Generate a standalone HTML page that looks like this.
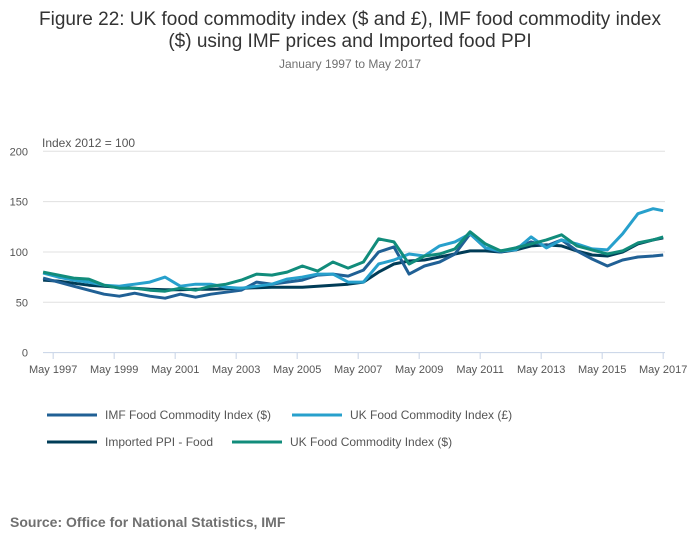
<!DOCTYPE html>
<html><head><meta charset="utf-8"><style>
body{margin:0;background:#fff;width:700px;height:549px;overflow:hidden;font-family:"Liberation Sans",sans-serif;}
</style></head><body>
<svg width="700" height="549" style="position:absolute;left:0;top:0">
<text x="350" y="25" text-anchor="middle" font-size="19" fill="#333">Figure 22: UK food commodity index ($ and £), IMF food commodity index</text>
<text x="350" y="47" text-anchor="middle" font-size="19" fill="#333">($) using IMF prices and Imported food PPI</text>
<text x="350" y="68" text-anchor="middle" font-size="12" fill="#707070">January 1997 to May 2017</text>
<text x="42" y="147" font-size="12" fill="#555">Index 2012 = 100</text>
<g id="grid"></g><g id="series"></g>
<g id="legend" font-size="12" fill="#555">
<line x1="47" y1="415" x2="97" y2="415" stroke="#206095" stroke-width="3"/>
<text x="105" y="419">IMF Food Commodity Index ($)</text>
<line x1="292" y1="415" x2="342" y2="415" stroke="#27a0cc" stroke-width="3"/>
<text x="350" y="419">UK Food Commodity Index (£)</text>
<line x1="47" y1="442" x2="97" y2="442" stroke="#003c57" stroke-width="3"/>
<text x="105" y="446">Imported PPI - Food</text>
<line x1="232" y1="442" x2="282" y2="442" stroke="#118c7b" stroke-width="3"/>
<text x="290" y="446">UK Food Commodity Index ($)</text>
</g>
<text x="10" y="527" font-size="14" font-weight="bold" fill="#707070">Source: Office for National Statistics, IMF</text>
</svg>
<script>
const dates=[1997,1997.5,1998,1998.5,1999,1999.5,2000,2000.5,2001,2001.5,2002,2002.5,2003,2003.5,2004,2004.5,2005,2005.5,2006,2006.5,2007,2007.5,2008,2008.5,2009,2009.5,2010,2010.5,2011,2011.5,2012,2012.5,2013,2013.5,2014,2014.5,2015,2015.5,2016,2016.5,2017,2017.33];
const ppi=[72,71,69,67,66,65,64,63,62.5,62.5,63,63,63.5,64,64.5,65,65,65,66,67,68,70,80,88,91,92,95,98,101,101,100,102,106,107,106,101,97,96,100,108,112,114];
const ukDollar=[80,77,74,73,67,64,64,62,61,64,62,66,68,72,78,77,80,86,81,90,84,90,113,110,88,96,98,103,120,108,101,104,108,112,117,106,102,98,101,109,112,115];
const ukPound=[79,75,72,70,67,66,68,70,75,66,68,68,65,64,66,68,73,75,78,78,70,70,88,92,98,96,106,110,118,104,101,102,115,104,112,108,103,102,118,138,143,141];
const imfDollar=[74,70,66,62,58,56,59,56,54,58,55,58,60,62,70,68,70,72,77,78,76,82,100,105,78,86,90,98,118,104,100,104,110,106,112,101,93,86,92,95,96,97];
const yTicks=[0,50,100,150,200];
const xTickLabels=["May 1997","May 1999","May 2001","May 2003","May 2005","May 2007","May 2009","May 2011","May 2013","May 2015","May 2017"];
const xTickDates=[1997.33,1999.33,2001.33,2003.33,2005.33,2007.33,2009.33,2011.33,2013.33,2015.33,2017.33];
const NS="http://www.w3.org/2000/svg";
const X=d=>43.1+(d-1997)*30.5;
const Y=v=>352.6-v*1.0065;
const grid=document.getElementById('grid');
function mk(t,a,p){const e=document.createElementNS(NS,t);for(const k in a)e.setAttribute(k,a[k]);p.appendChild(e);return e;}
yTicks.forEach(v=>{
 const l=mk('line',{x1:43,x2:665,y1:Y(v),y2:Y(v),stroke:v===0?'#c6d2e6':'#e0e0e0','stroke-width':1},grid);
 
 
 const t=mk('text',{x:28,y:Y(v)+4,'text-anchor':'end','font-size':11,fill:'#555'},grid);
 t.textContent=v;
 
 
});
xTickDates.forEach((d,i)=>{
 const l=mk('line',{x1:X(d),x2:X(d),y1:352.6,y2:359,stroke:'#c6d2e6'},grid);
 
 
 const t=mk('text',{x:X(d),y:373,'text-anchor':'middle','font-size':11,fill:'#555'},grid);
 t.textContent=xTickLabels[i];
 
 
});
const sg=document.getElementById('series');
[[ppi,'#003c57','line-imported-ppi'],[imfDollar,'#206095','line-imf-dollar'],[ukPound,'#27a0cc','line-uk-pound'],[ukDollar,'#118c7b','line-uk-dollar']].forEach(s=>{
 const d=s[0].map((v,i)=>(i?'L':'M')+X(dates[i]).toFixed(1)+','+Y(v).toFixed(1)).join('');
 const p=mk('path',{d:d,fill:'none',stroke:s[1],'stroke-width':3,'stroke-linejoin':'round'},sg);
 
 
});
</script>
</body></html>
